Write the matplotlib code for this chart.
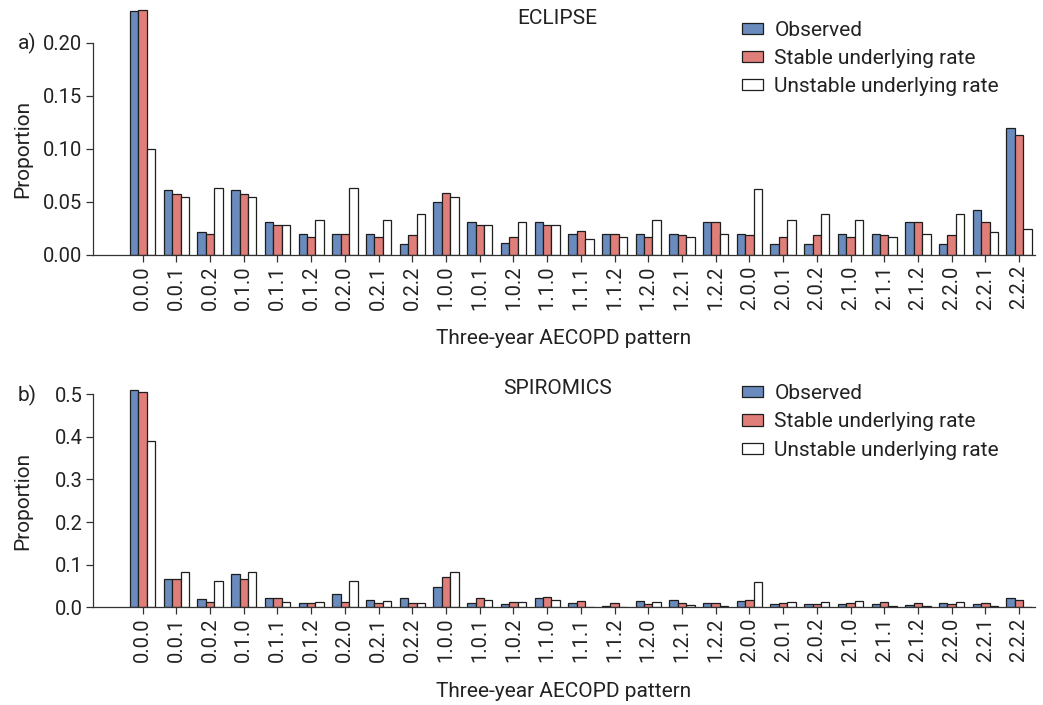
import numpy as np
import matplotlib
matplotlib.use('Agg')
import matplotlib.pyplot as plt
from matplotlib.patches import Patch

plt.rcParams['font.family'] = ['Roboto', 'DejaVu Sans']

patterns = ['0.0.0', '0.0.1', '0.0.2', '0.1.0', '0.1.1', '0.1.2', '0.2.0', '0.2.1', '0.2.2',
            '1.0.0', '1.0.1', '1.0.2', '1.1.0', '1.1.1', '1.1.2', '1.2.0', '1.2.1', '1.2.2',
            '2.0.0', '2.0.1', '2.0.2', '2.1.0', '2.1.1', '2.1.2', '2.2.0', '2.2.1', '2.2.2']

# ECLIPSE
eclipse_obs = [0.230, 0.061, 0.021, 0.061, 0.031, 0.020, 0.020, 0.020, 0.010,
               0.050, 0.031, 0.011, 0.031, 0.020, 0.020, 0.020, 0.020, 0.031,
               0.020, 0.010, 0.010, 0.020, 0.020, 0.031, 0.010, 0.042, 0.120]
eclipse_stable = [0.231, 0.057, 0.020, 0.057, 0.028, 0.017, 0.020, 0.017, 0.019,
                  0.058, 0.028, 0.017, 0.028, 0.022, 0.020, 0.017, 0.019, 0.031,
                  0.019, 0.017, 0.019, 0.017, 0.019, 0.031, 0.019, 0.031, 0.113]
eclipse_unstable = [0.100, 0.054, 0.063, 0.054, 0.028, 0.033, 0.063, 0.033, 0.038,
                    0.054, 0.028, 0.031, 0.028, 0.015, 0.017, 0.033, 0.017, 0.020,
                    0.062, 0.033, 0.038, 0.033, 0.017, 0.020, 0.038, 0.021, 0.024]

# SPIROMICS
spiro_obs = [0.510, 0.066, 0.019, 0.078, 0.021, 0.009, 0.031, 0.017, 0.021,
             0.048, 0.009, 0.007, 0.021, 0.009, 0.002, 0.014, 0.017, 0.009,
             0.014, 0.007, 0.007, 0.007, 0.007, 0.005, 0.009, 0.007, 0.021]
spiro_stable = [0.506, 0.066, 0.013, 0.066, 0.021, 0.009, 0.013, 0.009, 0.009,
                0.070, 0.021, 0.012, 0.025, 0.014, 0.009, 0.007, 0.009, 0.009,
                0.017, 0.009, 0.007, 0.009, 0.012, 0.009, 0.007, 0.009, 0.017]
spiro_unstable = [0.390, 0.082, 0.061, 0.082, 0.013, 0.012, 0.061, 0.014, 0.009,
                  0.082, 0.017, 0.012, 0.017, 0.001, 0.001, 0.012, 0.005, 0.003,
                  0.060, 0.012, 0.012, 0.014, 0.004, 0.003, 0.012, 0.004, 0.001]

labels = ['Observed', 'Stable underlying rate', 'Unstable underlying rate']
colors = ['#6a8bbd', '#e07f79', 'white']
edge = '#1e1e1e'
txt = '#222222'
fs = 15


def draw_panel(ax, series, ymax, ytop, yticks, fmt, leg_y):
    x = np.arange(len(patterns))
    w = 0.25
    for k, vals in enumerate(series):
        ax.bar(x + (k - 1) * w, vals, width=w, color=colors[k], edgecolor=edge, linewidth=0.9)
    ax.set_xlim(-1.47, 26.47)
    ax.set_ylim(0, ytop)
    ax.set_yticks(yticks)
    ax.set_yticklabels([fmt.format(v) for v in yticks])
    ax.set_xticks(x)
    ax.set_xticklabels(patterns, rotation=90)
    for s in ['top', 'right']:
        ax.spines[s].set_visible(False)
    ax.spines['left'].set_bounds(0, ymax)
    for s in ['left', 'bottom']:
        ax.spines[s].set_color('#333333')
        ax.spines[s].set_linewidth(0.9)
    ax.tick_params(axis='both', colors='#333333', labelcolor=txt, labelsize=14.5, length=5, width=0.9, pad=2.5)
    ax.set_xlabel('Three-year AECOPD pattern', fontsize=fs, color=txt, labelpad=14)
    ax.set_ylabel('Proportion', fontsize=fs, color=txt)
    ax.yaxis.set_label_coords(-0.065, (ymax / 2) / ytop)
    handles = [Patch(facecolor=colors[k], edgecolor=edge, linewidth=0.9, label=labels[k]) for k in range(3)]
    ax.legend(handles=handles, loc='upper left', bbox_to_anchor=(0.678, leg_y), frameon=False,
              borderpad=0, fontsize=fs, handlelength=1.0, handleheight=0.45, handletextpad=0.55,
              labelspacing=0.45, labelcolor=txt)
    return ax


fig = plt.figure(figsize=(10.43, 7.05), dpi=100)
ax1 = fig.add_axes([0.0892, 0.6387, 0.9031, 0.3533])
ax2 = fig.add_axes([0.0892, 0.1386, 0.9031, 0.3142])

draw_panel(ax1, [eclipse_obs, eclipse_stable, eclipse_unstable], 0.20, 0.235,
           [0.0, 0.05, 0.10, 0.15, 0.20], '{:.2f}', 0.982)
draw_panel(ax2, [spiro_obs, spiro_stable, spiro_unstable], 0.5, 0.52,
           [0.0, 0.1, 0.2, 0.3, 0.4, 0.5], '{:.1f}', 1.055)

fig.text(557 / 1043, 1 - 19 / 705, 'ECLIPSE', ha='center', va='center', fontsize=fs, color=txt)
fig.text(557 / 1043, 1 - 389 / 705, 'SPIROMICS', ha='center', va='center', fontsize=fs, color=txt)
fig.text(27 / 1043, 1 - 43 / 705, 'a)', ha='center', va='center', fontsize=fs, color=txt)
fig.text(27 / 1043, 1 - 395 / 705, 'b)', ha='center', va='center', fontsize=fs, color=txt)

fig.savefig('out.png', dpi=100)
